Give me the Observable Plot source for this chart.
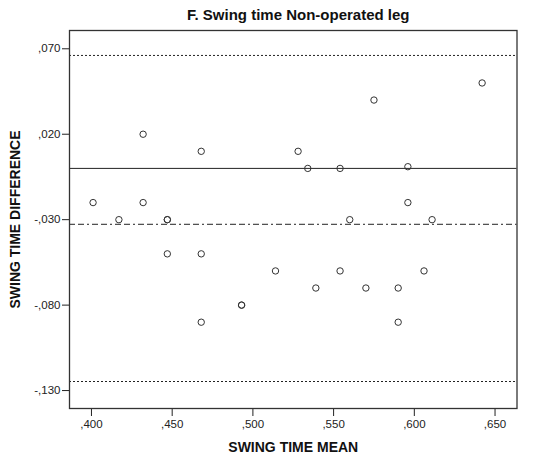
<!DOCTYPE html>
<html><head><meta charset="utf-8">
<script src="https://cdn.jsdelivr.net/npm/d3@7"></script>
<script src="https://cdn.jsdelivr.net/npm/@observablehq/plot@0.6"></script>
<style>body{margin:0;background:#fff}</style>
</head><body><div id="chart"></div>
<script>
const swingMean = [0.401,0.417,0.432,0.432,0.447,0.447,0.447,0.468,0.468,0.468,0.493,0.493,0.514,0.528,0.534,0.539,0.554,0.554,0.560,0.570,0.575,0.590,0.590,0.596,0.596,0.606,0.611,0.642];
const swingDiff = [-0.02,-0.03,0.02,-0.02,-0.03,-0.03,-0.05,0.01,-0.05,-0.09,-0.08,-0.08,-0.06,0.01,0.0,-0.07,0.0,-0.06,-0.03,-0.07,0.04,-0.07,-0.09,0.001,-0.02,-0.06,-0.03,0.05];
const xTicks = [0.40,0.45,0.50,0.55,0.60,0.65];
const yTicks = [0.07,0.02,-0.03,-0.08,-0.13];
const zeroLine = [0];
const meanDiff = [-0.0327];
const limitsOfAgreement = [0.0661,-0.1247];
const titleText = "F. Swing time Non-operated leg";
const xLabel = "SWING TIME MEAN";
const yLabel = "SWING TIME DIFFERENCE";

const points = swingMean.map((m,i)=>({mean:m, diff:swingDiff[i]}));
const fmt = d => d3.format(".3f")(d).replace("\u2212","-").replace(/^(-?)0\./,"$1,");
const font = "'Liberation Sans', Arial, sans-serif";

const chart = Plot.plot({
  width: 535, height: 455,
  marginLeft: 69, marginRight: 18.5, marginTop: 30, marginBottom: 47,
  style: {fontFamily: font, fontSize: "11.5px", color: "#222", background: "#fff"},
  x: {domain: [0.3864, 0.6636], ticks: xTicks, tickFormat: fmt, label: null},
  y: {domain: [-0.1405, 0.0807], ticks: yTicks, tickFormat: fmt, label: null},
  marks: [
    Plot.axisX({ticks: xTicks, tickFormat: fmt, tickSize: 8, tickPadding: 3, stroke: "#222", label: null}),
    Plot.axisY({ticks: yTicks, tickFormat: fmt, tickSize: 7, tickPadding: 2, stroke: "#222", label: null}),
    Plot.ruleY(limitsOfAgreement, {stroke: "#222", strokeWidth: 1, strokeDasharray: "2,2"}),
    Plot.ruleY(meanDiff, {stroke: "#222", strokeWidth: 1, strokeDasharray: "6,3,6,3,2,3"}),
    Plot.ruleY(zeroLine, {stroke: "#222", strokeWidth: 1}),
    Plot.dot(points, {x: "mean", y: "diff", r: 3.2, stroke: "#333", strokeWidth: 1, fill: "none"}),
    Plot.frame({stroke: "#333", strokeWidth: 1.3}),
    Plot.text([titleText], {frameAnchor: "top", dy: -15, dx: 5, textAnchor: "middle", lineAnchor: "middle", fontSize: 15, fontWeight: "bold", fill: "#111"}),
    Plot.text([xLabel], {frameAnchor: "bottom", dy: 39, textAnchor: "middle", lineAnchor: "middle", fontSize: 14, fontWeight: "bold", fill: "#111"}),
    Plot.text([yLabel], {frameAnchor: "left", dx: -54, rotate: -90, textAnchor: "middle", lineAnchor: "middle", fontSize: 14, fontWeight: "bold", fill: "#111"})
  ]
});
document.getElementById("chart").appendChild(chart);
</script>
</body></html>
